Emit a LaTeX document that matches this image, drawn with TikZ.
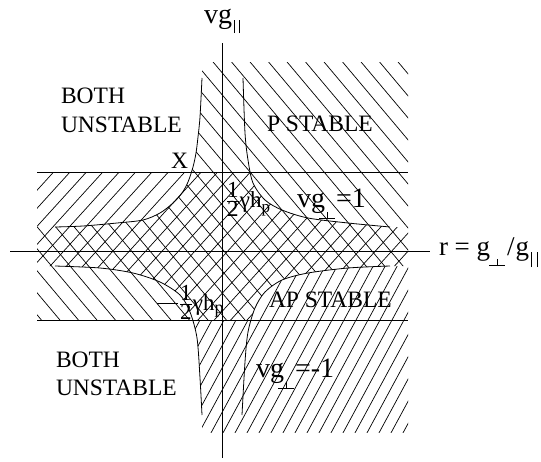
\documentclass[tikz,border=0pt]{standalone}
\usepackage{fontspec}
\setmainfont{Liberation Serif}
\usepackage{graphicx}
% subscript perpendicular sign and double bar, built from rules
\newcommand\perpsub[1][12pt]{\raisebox{-#1}{\rlap{\rule{16pt}{0.8pt}}\kern7.6pt\rule{0.8pt}{7pt}\kern7.6pt}}
\newcommand\parsub[2][10pt]{\kern1.5pt\raisebox{-#1}{\rule{0.8pt}{#2}\kern5pt\rule{0.8pt}{#2}}}
\newcommand\halffrac{$\frac{\hbox{1}}{\hbox{2}}$}
\begin{document}
\begin{tikzpicture}[x=1pt,y=-1pt,
  hatch/.style={line width=0.7pt},
  rulel/.style={line width=0.9pt},
  curve/.style={line width=0.8pt},
  lab/.style={inner sep=0pt,outer sep=0pt,anchor=base west,font=\fontsize{23.5}{28}\selectfont},
  mlab/.style={lab,font=\fontsize{28}{30}\selectfont},
  hlab/.style={lab,font=\fontsize{23}{23}\selectfont}]
\fill[white] (0,0) rectangle (541,461);
\useasboundingbox (0,0) rectangle (541,461);

% outer box drawn counter-clockwise, masks clockwise: nonzero rule cuts the masks out
\def\bigbox{(-20,-20) -- (-20,481) -- (561,481) -- (561,-20) -- cycle}
\def\ULmask{(-10,-10) -- (202,-10) -- plot[smooth] coordinates {(202,78) (200,117) (198,137) (196,153) (193,167) (188,182) (182,193) (173,203) (160,213) (143,220) (117,223) (83,226) (55,227)} -- (-10,227) -- cycle}
\def\URmask{(243,-10) -- (551,-10) -- (551,227) -- plot[smooth] coordinates {(390,227) (348,223) (308,218) (282,210) (265,200) (253,183) (248,160) (245,133) (243,78)} -- cycle}
\def\LLmask{(-10,266) -- plot[smooth] coordinates {(55,266) (100,268) (133,273) (160,282) (180,295) (190,312) (197,338) (200,378) (202,415)} -- (202,471) -- (-10,471) -- cycle}
\def\LRmask{(551,266) -- (551,471) -- (242,471) -- plot[smooth] coordinates {(242,415) (245,362) (248,332) (255,308) (265,292) (282,280) (308,273) (348,268) (390,266)} -- cycle}
\def\Bmask{(-10,320) -- plot[smooth] coordinates {(251.5,320) (255,308) (265,292) (282,280) (308,273) (348,268) (390,266)} -- (551,266) -- (551,471) -- (-10,471) -- cycle}

% P stable hatching
\begin{scope}
  \clip (37,62) rectangle (408,320.3);
  \clip \bigbox \ULmask;
  \clip \bigbox \LRmask;
  \foreach \k in {-32,...,10} {
    \pgfmathsetmacro\xa{235+18.5*\k}
    \draw[hatch] (\xa,0) -- (\xa+387.4,461);
  }
\end{scope}

% AP stable hatching
\begin{scope}
  \clip (37,172.7) rectangle (408,432);
  \clip \bigbox \URmask;
  \clip \bigbox \LLmask;
  \begin{scope}
    \clip \bigbox \Bmask;
    \foreach \k in {-12,...,38} {
      \pgfmathsetmacro\xa{53+16.4*\k}
      \draw[hatch] (\xa-262.1,461) -- (\xa+157,0);
    }
  \end{scope}
  \begin{scope}
    \clip \Bmask;
    \foreach \k in {-20,...,25} {
      \pgfmathsetmacro\xa{200+12*\k}
      \draw[hatch] (\xa-76.2,461) -- (\xa+173,0);
    }
  \end{scope}
\end{scope}

% axes and lines
\coordinate (vt) at (222.7,43);
\coordinate (vb) at (222.7,458);
\coordinate (hl) at (10,251);
\coordinate (hr) at (430,251);
\coordinate (ul) at (37,172.7);
\coordinate (ur) at (408,172.7);
\coordinate (ll) at (37,320.3);
\coordinate (lr) at (408,320.3);
\draw[rulel] (vt) -- (vb);
\draw[rulel] (hl) -- (hr);
\draw[rulel] (ul) -- (ur);
\draw[rulel] (ll) -- (lr);

% curves
\draw[curve] plot[smooth] coordinates {(202,78) (200,117) (198,137) (196,153) (193,167) (188,182) (182,193) (173,203) (160,213) (143,220) (117,223) (83,226) (55,227)};
\draw[curve] plot[smooth] coordinates {(243,78) (245,133) (248,160) (253,183) (265,200) (282,210) (308,218) (348,223) (390,227)};
\draw[curve] plot[smooth] coordinates {(55,266) (100,268) (133,273) (160,282) (180,295) (190,312) (197,338) (200,378) (202,415)};
\draw[curve] plot[smooth] coordinates {(390,266) (348,268) (308,273) (282,280) (265,292) (255,308) (248,332) (245,362) (242,415)};

% labels
\node[lab] (bothA) at (61,103) {BOTH};
\node[lab] (unstA) at (61,132) {UNSTABLE};
\node[lab] (pstab) at (267,131) {P STABLE};
\node[lab] (xlab) at (171,168) {X};
\node[lab] (apstab) at (269,307) {AP STABLE};
\node[lab] (bothB) at (56,367) {BOTH};
\node[lab] (unstB) at (56,395) {UNSTABLE};
\node[mlab] (vgpar) at (204,23) {vg\parsub{13pt}};
\node[mlab] (vgp1) at (297,207) {vg\kern-6pt\perpsub\kern1pt=1};
\node[mlab] (vgm1) at (256,377) {vg\kern-6pt\perpsub\kern1pt=-1};
\node[mlab,font=\fontsize{27}{30}\selectfont] (rlab) at (439,255) {r = g\kern-1pt\perpsub[11pt]\kern2pt/\kern1pt g\parsub[12pt]{15pt}};
\node[hlab] (hpU) at (226,207) {\halffrac γh\raisebox{-5pt}{\fontsize{17}{17}\selectfont p}};
\node[hlab] (hpL) at (157,310) {\rule[6pt]{21pt}{0.9pt}\kern1pt\halffrac γh\raisebox{-3pt}{\fontsize{18}{18}\selectfont p}};
\end{tikzpicture}
\end{document}
